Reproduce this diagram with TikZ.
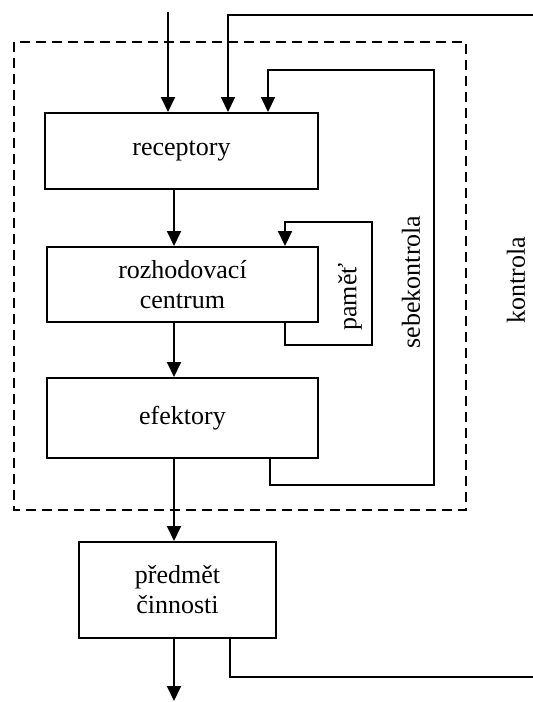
\documentclass[tikz,border=0pt]{standalone}
\usepackage{fontspec}
\setmainfont{Liberation Serif}
\usetikzlibrary{arrows.meta}
\begin{document}
\begin{tikzpicture}[x=1pt,y=-1pt,
  line width=2pt,
  font=\fontsize{26}{30}\selectfont,
  block/.style={draw, fill=white, inner sep=0pt, align=center},
  flow/.style={-{Triangle[length=15pt,width=14pt]}},
  wire/.style={},
  lbl/.style={rotate=90, inner sep=0pt}]
  \useasboundingbox[fill=white] (0,0) rectangle (533,702);

  % system boundary
  \draw[dashed, dash pattern=on 10pt off 6pt] (14,42) rectangle (466,510);

  % blocks
  \node[block, minimum width=273pt, minimum height=76pt] (rec) at (181.5,151) {receptory};
  \node[block, minimum width=271pt, minimum height=75pt] (roz) at (182.5,284.5) {rozhodovací\\centrum};
  \node[block, minimum width=271pt, minimum height=80pt] (efe) at (182.5,418) {efektory};
  \node[block, minimum width=197pt, minimum height=96pt] (pred) at (177.5,590) {předmět\\činnosti};

  % routing points
  \coordinate (ax) at (174,0);
  \coordinate (inTop) at (168,12);
  \coordinate (kIn) at (533,15);
  \coordinate (kTurn) at (228,15);
  \coordinate (s1) at (270,485);
  \coordinate (s2) at (434,485);
  \coordinate (s3) at (434,70);
  \coordinate (s4) at (268,70);
  \coordinate (p1) at (285,345);
  \coordinate (p2) at (372,345);
  \coordinate (p3) at (372,222);
  \coordinate (p4) at (285,222);
  \coordinate (out) at (174,701);
  \coordinate (k1) at (230,677);
  \coordinate (kOut) at (533,677);

  % main flow
  \draw[flow] (inTop) -- (inTop |- rec.north);
  \draw[flow] (rec.south -| ax) -- (roz.north -| ax);
  \draw[flow] (roz.south -| ax) -- (efe.north -| ax);
  \draw[flow] (efe.south -| ax) -- (pred.north -| ax);
  \draw[flow] (pred.south -| ax) -- (out);

  % memory loop
  \draw[flow] (p1 |- roz.south) -- (p1) -- (p2) -- (p3) -- (p4) -- (p4 |- roz.north);
  % self-control loop
  \draw[flow] (s1 |- efe.south) -- (s1) -- (s2) -- (s3) -- (s4) -- (s4 |- rec.north);
  % external control loop
  \draw[flow] (kIn) -- (kTurn) -- (kTurn |- rec.north);
  \draw[wire] (k1 |- pred.south) -- (k1) -- (kOut);

  % loop labels
  \node[lbl] (lpam) at (350,297) {paměť};
  \node[lbl] (lseb) at (411,282) {sebekontrola};
  \node[lbl] (lkon) at (516,280) {kontrola};
\end{tikzpicture}
\end{document}
